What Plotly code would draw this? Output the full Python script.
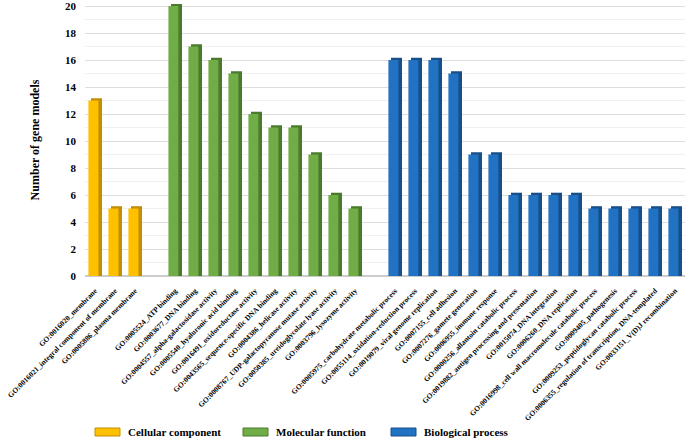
import plotly.graph_objects as go

cc_terms = ["GO:0016020_membrane", "GO:0016021_integral component of membrane",
            "GO:0005886_plasma membrane"]
cc_counts = [13, 5, 5]

mf_terms = ["GO:0005524_ATP binding", "GO:0003677_DNA binding",
            "GO:0004557_alpha-galactosidase activity", "GO:0005540_hyaluronic acid binding",
            "GO:0016491_oxidoreductase activity", "GO:0043565_sequence-specific DNA binding",
            "GO:0004386_helicase activity", "GO:0008767_UDP-galactopyranose mutase activity",
            "GO:0050385_ureidoglycolate lyase activity", "GO:0003796_lysozyme activity"]
mf_counts = [20, 17, 16, 15, 12, 11, 11, 9, 6, 5]

bp_terms = ["GO:0005975_carbohydrate metabolic process", "GO:0055114_oxidation-reduction process",
            "GO:0019079_viral genome replication", "GO:0007155_cell adhesion",
            "GO:0007276_gamete generation", "GO:0006955_immune response",
            "GO:0000256_allantoin catabolic process", "GO:0019882_antigen processing and presentation",
            "GO:0015074_DNA integration", "GO:0006260_DNA replication",
            "GO:0016998_cell wall macromolecule catabolic process", "GO:0009405_pathogenesis",
            "GO:0009253_peptidoglycan catabolic process",
            "GO:0006355_regulation of transcription, DNA-templated",
            "GO:0033151_V(D)J recombination"]
bp_counts = [16, 16, 16, 15, 9, 9, 6, 6, 6, 6, 5, 5, 5, 5, 5]

groups = [
    ("Cellular component", cc_terms, cc_counts, "#FFC000", "#C38F00"),
    ("Molecular function", mf_terms, mf_counts, "#70AD47", "#4A7A2C"),
    ("Biological process", bp_terms, bp_counts, "#2272C3", "#164F8A"),
]

# empty slots between the groups
order = cc_terms + [" "] + mf_terms + ["  "] + bp_terms

serif = "Liberation Serif"
depth = 0.17
L, R, T, B, W, H = 85, 5, 4, 166, 690, 442
pw, ph = W - L - R, H - T - B

fig = go.Figure()
for i, (name, terms, counts, front, side) in enumerate(groups):
    # darker block behind gives the 3D side/top
    fig.add_trace(go.Bar(x=terms, y=[c + depth for c in counts], width=0.55, offset=-0.2,
                         marker=dict(color=side, line=dict(width=0)),
                         showlegend=False, hoverinfo="skip"))
    fig.add_trace(go.Bar(x=terms, y=counts, width=0.5, offset=-0.33, name=name,
                         marker=dict(color=front, line=dict(width=0)), showlegend=False))
    # hand-made legend entry with a wide swatch like the original
    x0 = 95 + 148 * i
    yc = 432
    fig.add_shape(type="rect", xref="paper", yref="paper",
                  x0=(x0 - L) / pw, x1=(x0 + 25 - L) / pw,
                  y0=(H - B - yc - 4) / ph, y1=(H - B - yc + 4) / ph,
                  fillcolor=front, line=dict(color=side, width=1))
    fig.add_annotation(text="<b>" + name + "</b>", xref="paper", yref="paper",
                       x=(x0 + 31 - L) / pw, y=(H - B - yc) / ph,
                       xanchor="left", yanchor="middle", showarrow=False,
                       font=dict(family=serif, size=11, color="black"))

fig.update_layout(
    width=W, height=H,
    barmode="overlay",
    plot_bgcolor="white", paper_bgcolor="white",
    margin=dict(l=L, r=R, t=T, b=B),
    font=dict(family=serif, color="black"),
    showlegend=False,
)
fig.update_xaxes(categoryorder="array", categoryarray=order, tickangle=-45,
                 tickfont=dict(family=serif, size=7.5, weight="bold"),
                 showline=False, ticks="", automargin=False, ticklabelstandoff=8,
                 ticklabeloverflow="allow",
                 range=[-0.5, len(order) - 0.5])
fig.update_yaxes(range=[0, 20.15], dtick=2, showgrid=True, gridcolor="#DDDDDD",
                 minor=dict(dtick=1, showgrid=True, gridcolor="#F0F0F0"),
                 zeroline=True, zerolinecolor="#CCCCCC", automargin=False,
                 ticklabelstandoff=8, ticklabeloverflow="allow",
                 tickfont=dict(family=serif, size=11, weight="bold"),
                 title=dict(text="Number of gene models",
                            font=dict(family=serif, size=12, weight="bold"), standoff=22))

fig.write_html("out.html", config={"displayModeBar": False},
               post_script="document.body.style.margin='0';")
